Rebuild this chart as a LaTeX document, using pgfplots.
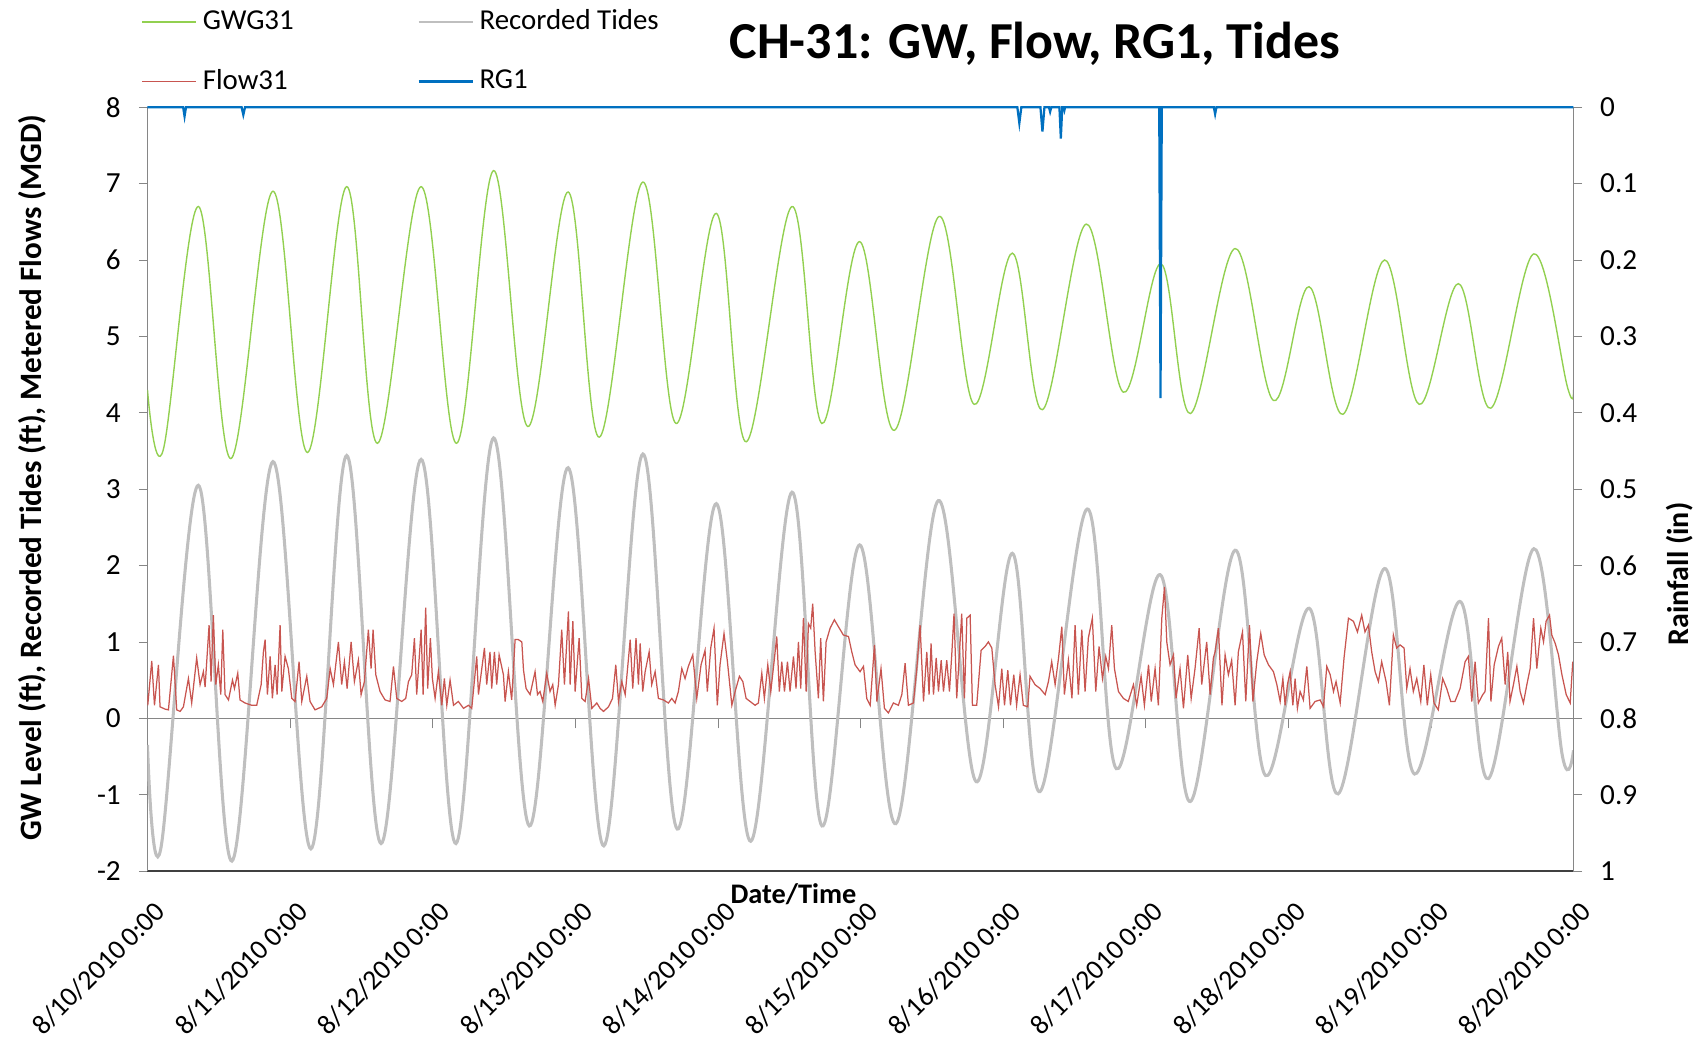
\documentclass[border=0pt]{standalone}
\usepackage{fontspec}
\setmainfont{Carlito}
\usepackage{pgfplots}
\usepackage{pgfplotstable}
\pgfplotsset{compat=1.18}

\definecolor{gwgreen}{RGB}{146,208,80}
\definecolor{flowred}{RGB}{200,85,80}
\definecolor{tidegray}{RGB}{191,191,191}
\definecolor{rgblue}{RGB}{0,112,192}
\definecolor{axgray}{RGB}{134,134,134}

% days after 8/10/2010 0:00
\pgfplotstableread{
x y
0 4.30
0.11 3.51
0.357 6.70
0.585 3.40
0.88 6.90
1.122 3.48
1.397 6.96
1.612 3.60
1.919 6.96
2.168 3.60
2.427 7.17
2.667 3.82
2.95 6.89
3.168 3.68
3.474 7.02
3.706 3.86
3.989 6.61
4.198 3.62
4.52 6.70
4.729 3.86
4.994 6.24
5.238 3.77
5.552 6.57
5.797 4.11
6.065 6.09
6.276 4.04
6.583 6.47
6.843 4.27
7.108 5.95
7.313 3.99
7.627 6.15
7.897 4.16
8.146 5.65
8.383 3.98
8.675 6.00
8.918 4.11
9.193 5.69
9.42 4.06
9.722 6.08
9.96 4.32
10 4.30
}\gwtab

\pgfplotstableread{
x y
0 -0.35
0.093 -1.71
0.357 3.05
0.592 -1.87
0.88 3.36
1.146 -1.71
1.397 3.44
1.638 -1.64
1.919 3.39
2.163 -1.64
2.427 3.67
2.678 -1.41
2.95 3.28
3.2 -1.67
3.474 3.46
3.715 -1.45
3.989 2.81
4.23 -1.61
4.52 2.96
4.73 -1.41
4.994 2.27
5.248 -1.38
5.546 2.85
5.811 -0.83
6.065 2.16
6.259 -0.96
6.59 2.74
6.794 -0.66
7.102 1.88
7.313 -1.09
7.627 2.20
7.841 -0.75
8.146 1.44
8.35 -0.99
8.675 1.96
8.885 -0.73
9.203 1.53
9.404 -0.79
9.722 2.22
9.923 -0.50
10 -0.42
}\tidetab

\pgfplotstableread{
x y
0 0.30
0.002 0.17
0.030 0.75
0.049 0.17
0.077 0.70
0.088 0.15
0.123 0.12
0.147 0.11
0.182 0.82
0.205 0.11
0.229 0.09
0.252 0.15
0.287 0.52
0.310 0.20
0.345 0.79
0.369 0.44
0.392 0.61
0.404 0.41
0.432 1.22
0.446 0.48
0.462 1.35
0.479 0.44
0.497 0.70
0.514 0.31
0.528 1.16
0.544 0.31
0.568 0.24
0.596 0.50
0.610 0.39
0.633 0.59
0.649 0.24
0.684 0.20
0.731 0.17
0.766 0.17
0.797 0.44
0.813 0.87
0.825 1.03
0.841 0.31
0.860 0.81
0.876 0.26
0.895 0.70
0.909 0.31
0.930 1.22
0.942 0.35
0.965 0.81
0.988 0.65
1.012 0.26
1.035 0.22
1.063 0.74
1.082 0.22
1.117 0.55
1.140 0.22
1.175 0.11
1.222 0.15
1.257 0.26
1.281 0.65
1.304 0.44
1.339 1.00
1.362 0.44
1.381 0.74
1.400 0.39
1.428 1.00
1.451 0.48
1.479 0.76
1.498 0.31
1.521 0.48
1.549 1.16
1.568 0.65
1.582 1.16
1.601 0.57
1.631 0.35
1.666 0.24
1.701 0.22
1.725 0.68
1.748 0.26
1.783 0.22
1.811 0.26
1.830 0.48
1.853 0.57
1.872 1.05
1.888 0.31
1.919 1.16
1.933 0.31
1.951 1.45
1.965 0.39
1.984 1.05
1.998 0.52
2.017 0.26
2.040 0.61
2.064 0.17
2.082 0.52
2.099 0.17
2.122 0.50
2.146 0.17
2.180 0.22
2.216 0.13
2.251 0.17
2.274 0.13
2.309 0.81
2.321 0.31
2.363 0.92
2.379 0.44
2.402 0.87
2.414 0.39
2.433 0.87
2.449 0.44
2.466 0.83
2.496 0.57
2.508 0.22
2.531 0.61
2.554 0.24
2.578 1.03
2.601 1.03
2.625 1.00
2.637 0.63
2.655 0.39
2.683 0.31
2.718 0.61
2.735 0.31
2.753 0.35
2.772 0.22
2.800 0.59
2.823 0.35
2.842 0.44
2.859 0.17
2.882 0.44
2.905 1.16
2.924 0.44
2.952 1.40
2.964 0.44
2.983 1.27
2.999 0.35
3.027 1.05
3.046 0.26
3.069 0.22
3.093 0.52
3.116 0.13
3.151 0.20
3.174 0.13
3.198 0.09
3.233 0.15
3.261 0.26
3.284 0.70
3.303 0.22
3.326 0.48
3.350 0.31
3.385 1.03
3.403 0.39
3.426 1.05
3.443 0.44
3.455 0.98
3.473 0.35
3.490 0.61
3.518 0.87
3.536 0.44
3.560 0.61
3.583 0.26
3.618 0.24
3.653 0.20
3.677 0.26
3.700 0.20
3.723 0.35
3.747 0.65
3.770 0.52
3.793 0.68
3.824 0.83
3.852 0.26
3.882 0.70
3.910 0.89
3.926 0.35
3.950 0.92
3.973 1.18
3.996 0.17
4.015 0.70
4.043 1.11
4.067 0.74
4.098 0.17
4.121 0.35
4.151 0.55
4.175 0.48
4.198 0.26
4.226 0.22
4.261 0.17
4.284 0.20
4.308 0.59
4.326 0.26
4.350 0.70
4.371 0.35
4.394 0.74
4.413 1.07
4.431 0.35
4.448 0.74
4.467 0.35
4.488 0.74
4.506 0.35
4.530 0.81
4.548 0.39
4.565 1.00
4.581 0.39
4.600 1.31
4.619 0.35
4.635 1.24
4.651 1.18
4.665 1.50
4.682 0.87
4.705 0.26
4.721 1.05
4.740 0.22
4.759 1.00
4.787 1.18
4.817 1.29
4.845 1.20
4.880 1.09
4.916 1.07
4.939 0.87
4.962 0.70
4.997 0.61
5.021 0.68
5.044 0.26
5.068 0.17
5.098 0.96
5.115 0.22
5.144 0.65
5.168 0.13
5.196 0.07
5.231 0.20
5.266 0.17
5.290 0.31
5.313 0.72
5.336 0.17
5.371 0.20
5.395 0.65
5.418 1.22
5.442 0.22
5.465 0.87
5.481 0.31
5.495 0.98
5.512 0.31
5.531 0.79
5.547 0.35
5.566 0.76
5.582 0.35
5.605 0.76
5.624 0.35
5.640 0.83
5.656 1.37
5.675 0.26
5.692 0.79
5.710 1.37
5.729 0.26
5.746 1.31
5.769 1.35
5.785 0.17
5.815 0.17
5.846 0.89
5.874 0.94
5.897 1.00
5.921 0.92
5.944 0.44
5.968 0.15
5.991 0.65
6.010 0.17
6.033 0.63
6.052 0.17
6.075 0.57
6.095 0.17
6.119 0.57
6.142 0.17
6.173 0.15
6.189 0.55
6.224 0.44
6.259 0.39
6.295 0.31
6.318 0.48
6.341 0.74
6.365 0.44
6.389 0.79
6.412 1.20
6.430 0.31
6.458 0.76
6.483 0.26
6.505 1.22
6.528 0.31
6.552 1.16
6.575 0.35
6.598 1.05
6.626 1.31
6.650 0.35
6.673 0.94
6.697 0.52
6.720 0.81
6.739 0.65
6.762 1.22
6.781 0.65
6.809 0.35
6.844 0.26
6.878 0.22
6.914 0.44
6.937 0.17
6.968 0.55
6.991 0.17
7.020 0.70
7.039 0.22
7.066 0.65
7.089 0.17
7.113 1.31
7.132 1.72
7.148 1.00
7.171 0.70
7.195 0.83
7.213 0.26
7.241 0.65
7.265 0.13
7.295 0.83
7.319 0.26
7.346 0.65
7.375 1.18
7.393 0.44
7.428 1.00
7.452 0.31
7.475 0.79
7.487 0.87
7.510 1.18
7.535 0.17
7.557 0.83
7.580 0.57
7.603 0.76
7.627 0.17
7.650 0.87
7.679 1.13
7.702 0.22
7.728 1.22
7.752 0.22
7.779 0.74
7.807 1.11
7.831 0.83
7.861 0.70
7.896 0.61
7.920 0.44
7.943 0.22
7.962 0.52
7.978 0.17
7.994 0.44
8.013 0.61
8.032 0.17
8.048 0.52
8.064 0.13
8.083 0.35
8.106 0.24
8.130 0.68
8.153 0.13
8.188 0.22
8.223 0.24
8.247 0.15
8.270 0.68
8.294 0.57
8.317 0.35
8.335 0.48
8.364 0.20
8.391 0.79
8.422 1.31
8.457 1.27
8.485 1.13
8.515 1.35
8.538 1.13
8.562 1.22
8.585 0.87
8.609 0.61
8.632 0.48
8.655 0.74
8.686 0.48
8.709 0.17
8.737 1.09
8.760 0.92
8.784 0.96
8.812 0.92
8.831 0.39
8.854 0.65
8.877 0.35
8.901 0.52
8.929 0.22
8.951 0.70
8.975 0.17
8.999 0.57
9.022 0.20
9.052 0.11
9.083 0.52
9.111 0.39
9.139 0.22
9.169 0.22
9.205 0.39
9.240 0.74
9.263 0.81
9.287 0.22
9.310 0.74
9.333 0.20
9.364 0.31
9.380 0.35
9.404 1.31
9.421 0.22
9.444 0.70
9.474 0.94
9.497 1.05
9.521 0.44
9.539 0.87
9.555 0.22
9.579 0.44
9.603 0.68
9.626 0.35
9.649 0.20
9.673 0.44
9.696 0.65
9.720 1.31
9.743 0.65
9.771 1.18
9.790 1.00
9.808 1.27
9.832 1.35
9.848 1.09
9.872 0.98
9.895 0.83
9.919 0.57
9.949 0.31
9.977 0.20
9.995 0.74
10 0.65
}\flowtab

\pgfplotstableread{
x y
0 0
0.25 0
0.26 0.012
0.27 0
0.66 0
0.672 0.01
0.684 0
6.10 0
6.114 0.021
6.128 0
6.262 0
6.276 0.032
6.29 0
6.322 0
6.33 0.006
6.338 0
6.395 0
6.405 0.041
6.415 0
6.425 0
6.43 0.004
6.435 0
7.095 0
7.104 0.381
7.113 0
7.478 0
7.487 0.009
7.496 0
10 0
}\raintab

\begin{document}
\begin{tikzpicture}
\path[use as bounding box] (-53.1pt,-66.2pt) rectangle (558.6pt,313.6pt);

\pgfplotsset{
  every axis/.append style={
    scale only axis,
    width=513.4pt, height=275pt,
    xmin=0, xmax=10,
    /pgf/number format/assume math mode=true,
    tick label style={font=\fontsize{10.5}{12}\selectfont},
    major tick length=3.1pt,
    tick style={axgray},
  },
}

% line at zero with the day ticks
\begin{axis}[
  ymin=-2, ymax=8,
  axis y line=none,
  axis x line*=middle,
  axis line style={axgray},
  xtick={0,...,10},
  xticklabel=\empty,
  xtick align=outside,
  major tick length=3.6pt,
]
\end{axis}

% left axis
\begin{axis}[
  ymin=-2, ymax=8,
  axis y line*=left,
  axis x line*=bottom,
  y axis line style={axgray},
  x axis line style={black!75, line width=0.9pt},
  ytick={-2,...,8},
  ytick align=outside,
  yticklabel style={xshift=-3pt},
  xtick={0,...,10},
  xtick style={draw=none},
  xticklabels={8/10/2010\,0:00, 8/11/2010\,0:00, 8/12/2010\,0:00, 8/13/2010\,0:00,
    8/14/2010\,0:00, 8/15/2010\,0:00, 8/16/2010\,0:00, 8/17/2010\,0:00,
    8/18/2010\,0:00, 8/19/2010\,0:00, 8/20/2010\,0:00},
  xticklabel style={xshift=2pt, yshift=-10pt, rotate=45, anchor=north east, inner sep=0pt,
    font=\fontsize{10}{12}\selectfont},
  xlabel={Date/Time},
  xlabel style={at={(axis description cs:0.453,0)}, anchor=north, yshift=-1pt,
    font=\fontsize{10.2}{12}\selectfont\bfseries},
  ylabel={GW Level (ft), Recorded Tides (ft), Metered Flows (MGD)},
  ylabel style={at={(axis description cs:-0.0806,0.515)}, anchor=center,
    font=\fontsize{11.2}{13}\selectfont\bfseries},
]
\addplot[gwgreen, line width=0.5pt, smooth, tension=0.6] table {\gwtab};
\addplot[tidegray, line width=1.1pt, smooth, tension=0.6] table {\tidetab};
\addplot[flowred, line width=0.45pt] table {\flowtab};
\end{axis}

% right axis
\begin{axis}[
  ymin=0, ymax=1, y dir=reverse,
  axis y line*=right,
  axis x line=none,
  y axis line style={axgray},
  ytick={0,0.1,0.2,0.3,0.4,0.5,0.6,0.7,0.8,0.9,1},
  ytick align=outside,
  yticklabel style={xshift=3pt},
  clip=false,
  ylabel={Rainfall (in)},
  ylabel style={at={(axis description cs:1.0744,0.389)}, anchor=center,
    font=\fontsize{10.8}{13}\selectfont\bfseries},
  title={CH-31: GW, Flow, RG1, Tides},
  title style={at={(axis description cs:0.6223,1.0618)}, anchor=center,
    font=\fontsize{18.7}{22}\selectfont\bfseries},
  legend columns=2,
  legend cell align=left,
  legend style={draw=none, fill=none, inner sep=0pt,
    at={(axis description cs:0,1)}, anchor=south west, xshift=-2.3pt, yshift=2.7pt,
    font=\fontsize{10.4}{12}\selectfont, row sep=8.7pt,
    /tikz/every even column/.append style={column sep=42.5pt}},
  legend image code/.code={\draw[#1] (0pt,0pt) -- (19.4pt,0pt);},
]
\addlegendimage{gwgreen, line width=0.6pt}
\addlegendentry{GWG31}
\addlegendimage{tidegray, line width=1pt}
\addlegendentry{Recorded Tides}
\addlegendimage{flowred, line width=0.6pt}
\addlegendentry{Flow31}
\addplot[rgblue, line width=0.8pt] table {\raintab};
\addlegendentry{RG1}
\end{axis}
\end{tikzpicture}
\end{document}
